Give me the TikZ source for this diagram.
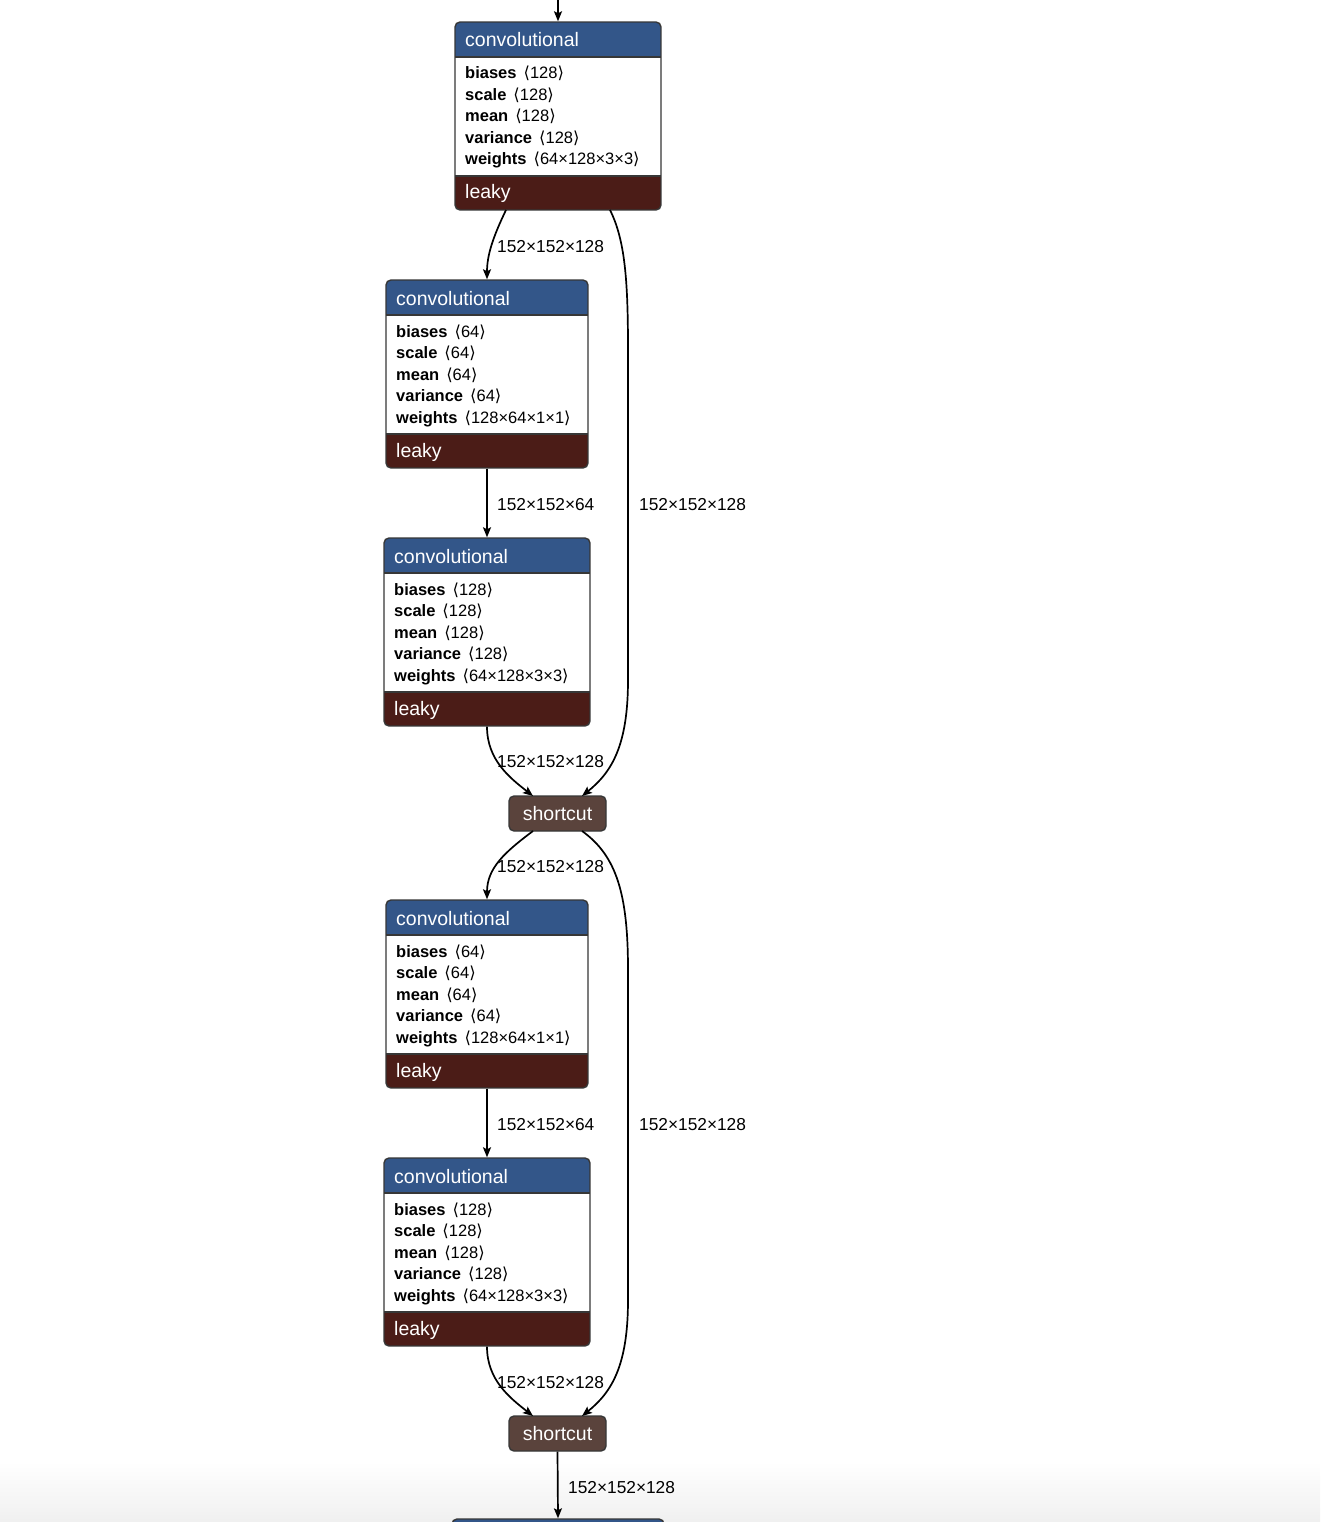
\documentclass[tikz,border=0pt]{standalone}
\usepackage{fontspec}
\setmainfont{Liberation Sans}
\newfontfamily\brkfont{DejaVu Sans}
\usetikzlibrary{arrows.meta,calc}
\definecolor{convblue}{RGB}{51,86,137}
\definecolor{leakyred}{RGB}{75,28,23}
\definecolor{shortbrown}{RGB}{90,67,60}
\definecolor{edgegray}{RGB}{55,55,55}
\newcommand\lbk{\hspace{7pt}{\brkfont\symbol{"27E8}}}
\newcommand\rbk{{\brkfont\symbol{"27E9}}}
\tikzset{
  boxshape/.style={draw=edgegray, rounded corners=5pt, line width=1.4pt, inner sep=0pt},
  boxline/.style={draw=edgegray, line width=1.1pt},
  hdr/.style={anchor=base west, inner sep=0pt, text=white, font=\fontsize{19.5}{22}\selectfont},
  rowtxt/.style={anchor=base west, inner sep=0pt, text=black, font=\fontsize{16.5}{19}\selectfont},
  lbl/.style={anchor=base west, inner sep=0pt, text=black, font=\fontsize{17.3}{20}\selectfont},
  shortbox/.style={draw=edgegray, fill=shortbrown, rounded corners=5pt, line width=1.4pt, minimum width=97pt, minimum height=35pt, inner sep=0pt, text=white, font=\fontsize{19.5}{22}\selectfont},
  conn/.style={draw=black, line width=1.7pt, -{Stealth[length=10pt,width=8pt,inset=2pt]}}
}
\newcommand\convbox[6]{%
  \begin{scope}
    \clip[rounded corners=5pt] (#2,#3) rectangle ++(#4,188);
    \fill[white] (#2,#3) rectangle ++(#4,188);
    \fill[convblue] (#2,#3) rectangle ++(#4,35);
    \fill[leakyred] (#2,{#3+154}) rectangle ++(#4,34);
  \end{scope}
  \draw[boxline] (#2,{#3+35}) -- ++(#4,0);
  \draw[boxline] (#2,{#3+154}) -- ++(#4,0);
  \node[boxshape, minimum width=#4pt, minimum height=188pt] (#1) at ({#2+#4/2},{#3+94}) {};
  \node[hdr] (#1-h) at ({#2+10},{#3+25}) {convolutional};
  \node[rowtxt] (#1-r1) at ({#2+10},{#3+57}) {\textbf{biases}\lbk#5\rbk};
  \node[rowtxt] (#1-r2) at ({#2+10},{#3+78.5}) {\textbf{scale}\lbk#5\rbk};
  \node[rowtxt] (#1-r3) at ({#2+10},{#3+100}) {\textbf{mean}\lbk#5\rbk};
  \node[rowtxt] (#1-r4) at ({#2+10},{#3+121.5}) {\textbf{variance}\lbk#5\rbk};
  \node[rowtxt] (#1-r5) at ({#2+10},{#3+143}) {\textbf{weights}\lbk#6\rbk};
  \node[hdr] (#1-f) at ({#2+10},{#3+177}) {leaky};
}
\begin{document}
\begin{tikzpicture}[x=1pt,y=-1pt]
\useasboundingbox (0,0) rectangle (1320,1522);
\path[clip] (0,0) rectangle (1320,1522);
\fill[white] (0,0) rectangle (1320,1522);
\shade[top color=white, bottom color=black!6] (0,1462) rectangle (1320,1522);

\convbox{b1}{455}{22}{206}{128}{64×128×3×3}
\convbox{b2}{386}{280}{202}{64}{128×64×1×1}
\convbox{b3}{384}{538}{206}{128}{64×128×3×3}
\convbox{b4}{386}{900}{202}{64}{128×64×1×1}
\convbox{b5}{384}{1158}{206}{128}{64×128×3×3}

\node[shortbox] (s1) at (557.5,813.5) {shortcut};
\node[shortbox] (s2) at (557.5,1433.5) {shortcut};

\node[boxshape, fill=convblue, minimum width=212pt, minimum height=60pt] (b6) at (558,1549) {};

\coordinate (topin) at (558,-5);
\coordinate (b1o1) at (506,210);
\coordinate (b1o2) at (610,210);
\coordinate (s1i1) at (533,796);
\coordinate (s1i2) at (582,796);
\coordinate (s1o1) at (533,831);
\coordinate (s1o2) at (582,831);
\coordinate (s2i1) at (533,1416);
\coordinate (s2i2) at (582,1416);

\draw[conn] (topin) -- (b1.north);
\draw[conn] (b1o1) .. controls (493,237) and (487,255) .. (b2.north);
\draw[conn] (b1o2) .. controls (625,240) and (628,280) .. (628,350) -- (628,680) .. controls (628,745) and (612,772) .. (s1i2);
\draw[conn] (b2.south) -- (b3.north);
\draw[conn] (b3.south) .. controls (487,760) and (510,778) .. (s1i1);
\draw[conn] (s1o1) .. controls (505,852) and (487,868) .. (b4.north);
\draw[conn] (s1o2) .. controls (617,856) and (628,895) .. (628,970) -- (628,1300) .. controls (628,1365) and (612,1392) .. (s2i2);
\draw[conn] (b4.south) -- (b5.north);
\draw[conn] (b5.south) .. controls (487,1380) and (510,1398) .. (s2i1);
\draw[conn] (s2.south) -- (b6.north);

\node[lbl] (l1) at (497,252) {152×152×128};
\node[lbl] (l2) at (639,510) {152×152×128};
\node[lbl] (l3) at (497,510) {152×152×64};
\node[lbl] (l4) at (497,767) {152×152×128};
\node[lbl] (l5) at (497,872) {152×152×128};
\node[lbl] (l6) at (639,1130) {152×152×128};
\node[lbl] (l7) at (497,1130) {152×152×64};
\node[lbl] (l8) at (497,1388) {152×152×128};
\node[lbl] (l9) at (568,1493) {152×152×128};
\end{tikzpicture}
\end{document}
